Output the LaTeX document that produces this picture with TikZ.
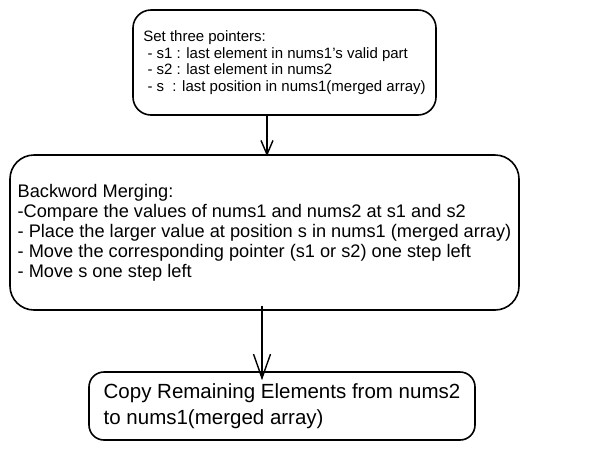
\documentclass[tikz,border=0pt]{standalone}
\usepackage{fontspec}
\setmainfont{Liberation Sans}
\usetikzlibrary{arrows.meta}

\begin{document}
\begin{tikzpicture}
[x=1pt,y=-1pt,
kasten/.style={draw, line width=1.6pt, rounded corners=18pt, align=left, inner sep=0pt},
pfeil/.style={line width=1.4pt, -{Straight Barb[length=14pt,width=12pt,line width=1.4pt]}},
]
\useasboundingbox (0,0) rectangle (599,451);

\node[kasten, minimum width=303pt, minimum height=105pt, font=\fontsize{15}{16.5}\selectfont] (zeiger) at (284.5,62.5)
{Set three pointers:\\
\ - s1 : last element in nums1's valid part\\
\ - s2 : last element in nums2\\
\ - s\ \ : last position in nums1(merged array)};

\node[kasten, minimum width=509pt, minimum height=155pt, rounded corners=24pt, font=\fontsize{18.2}{20}\selectfont] (merge) at (264.5,232.5)
{Backword Merging:\\
-Compare the values of nums1 and nums2 at s1 and s2\\
- Place the larger value at position s in nums1 (merged array)\\
- Move the corresponding pointer (s1 or s2) one step left\\
- Move s one step left};

\node[kasten, minimum width=386pt, minimum height=68pt, rounded corners=15pt, font=\fontsize{20.5}{26}\selectfont] (kopie) at (282,406)
{Copy Remaining Elements from nums2\\
to nums1(merged array)};

\coordinate (p1) at (267,0);
\coordinate (p2) at (262,0);

\draw[pfeil] (p1 |- zeiger.south) -- ([yshift=-2pt]p1 |- merge.north);
\draw[pfeil, -{Straight Barb[length=24pt,width=17pt,line width=1.4pt]}] ([yshift=5pt]p2 |- merge.south) -- ([yshift=-9pt]p2 |- kopie.north);
\end{tikzpicture}
\end{document}
